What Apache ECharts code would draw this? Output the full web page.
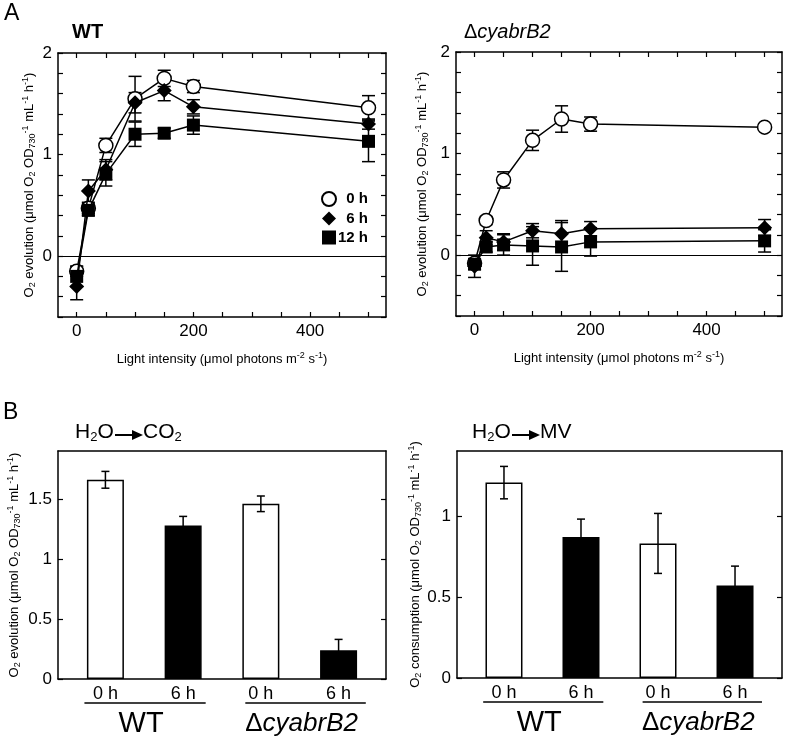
<!DOCTYPE html>
<html><head><meta charset="utf-8">
<script src="https://cdn.jsdelivr.net/npm/echarts@6/dist/echarts.min.js"></script>
<style>html,body{margin:0;padding:0;background:#fff}#c{width:785px;height:738px}</style>
</head><body><div id="c"></div>
<script>
// ---------- DATA ----------
const lightX = [0, 20, 50, 100, 150, 200, 500];
const timeNames = ['0 h', '6 h', '12 h'];
// WT
const wt0h    = [-0.15, 0.47, 1.09, 1.55, 1.75, 1.67, 1.46];
const wt0hErr = [0.05, 0.05, 0.07, 0.22, 0.08, 0.06, 0.12];
const wt6h    = [-0.30, 0.64, 0.85, 1.51, 1.63, 1.47, 1.30];
const wt6hErr = [0.13, 0.11, 0.10, 0.10, 0.10, 0.07, 0.05];
const wt12h    = [-0.20, 0.45, 0.81, 1.20, 1.21, 1.29, 1.13];
const wt12hErr = [0.10, 0.05, 0.12, 0.12, 0.05, 0.09, 0.20];
// delta cyabrB2
const dl0h    = [-0.08, 0.34, 0.74, 1.13, 1.34, 1.29, 1.26];
const dl0hErr = [0.03, 0.04, 0.08, 0.10, 0.13, 0.07, 0.03];
const dl6h    = [-0.11, 0.17, 0.13, 0.24, 0.21, 0.26, 0.27];
const dl6hErr = [0.11, 0.07, 0.08, 0.07, 0.13, 0.07, 0.08];
const dl12h    = [-0.09, 0.08, 0.10, 0.09, 0.08, 0.13, 0.14];
const dl12hErr = [0.05, 0.05, 0.10, 0.19, 0.24, 0.14, 0.11];
// tick labels
const lightTickLabels = [0, 200, 400];
const lightTicks = [0, 50, 100, 150, 200, 250, 300, 350, 400, 450, 500];
const rateTickLabels = [0, 1, 2];
const rateTicks = [-0.6, -0.4, -0.2, 0, 0.2, 0.4, 0.6, 0.8, 1, 1.2, 1.4, 1.6, 1.8, 2];
// Bars (panel B)
const barPos = [0, 1, 2, 3];
const barLabels = ['0 h', '6 h', '0 h', '6 h'];
const strainGroups = ['WT', 'ΔcyabrB2'];
const co2Vals = [1.66, 1.28, 1.46, 0.24];
const co2Err  = [0.07, 0.075, 0.065, 0.09];
const co2Ticks = [0, 0.5, 1, 1.5];
const mvVals = [1.205, 0.87, 0.83, 0.57];
const mvErr  = [0.10, 0.11, 0.185, 0.12];
const mvTicks = [0, 0.5, 1];

// ---------- STYLE ----------
const FONT = '"Liberation Sans", Arial, Helvetica, sans-serif';
const BLACK = '#000';
const richName = {
  n: {fontSize: 13, fontFamily: FONT, color: BLACK, lineHeight: 16},
  s: {fontSize: 9, fontFamily: FONT, color: BLACK, lineHeight: 12, verticalAlign: 'bottom'},
  p: {fontSize: 9, fontFamily: FONT, color: BLACK, verticalAlign: 'top'}
};
const yNameEvol = '{n|O}{s|2}{n| evolution (μmol O}{s|2}{n| OD}{s|730}{p|-1}{n| mL}{p|-1}{n| h}{p|-1}{n|)}';
const yNameCons = '{n|O}{s|2}{n| consumption (μmol O}{s|2}{n| OD}{s|730}{p|-1}{n| mL}{p|-1}{n| h}{p|-1}{n|)}';
const xNameLight = '{n|Light intensity (μmol photons m}{p|-2}{n| s}{p|-1}{n|)}';

const chart = echarts.init(document.getElementById('c'));

const grids = [
  {left: 58, top: 53, width: 328, height: 264},
  {left: 456, top: 52, width: 326, height: 264},
  {left: 58, top: 451, width: 328, height: 228},
  {left: 457, top: 451, width: 325, height: 227}
];

function boxAxis(extra) {
  return Object.assign({
    type: 'value',
    axisLine: {show: true, onZero: false, lineStyle: {color: BLACK, width: 1.5}},
    splitLine: {show: false},
    axisTick: {show: false},
    axisLabel: {show: false}
  }, extra);
}
function ticks(vals) {
  return {show: true, inside: true, length: 5, customValues: vals, lineStyle: {color: BLACK, width: 1.2}};
}
function labels(vals, extra) {
  return Object.assign({show: true, customValues: vals, fontSize: 16, fontFamily: FONT, color: BLACK, margin: 6}, extra || {});
}

const xAxes = [], yAxes = [];
// top panels
[0, 1].forEach(g => {
  xAxes.push(boxAxis({gridIndex: g, min: -32, max: 530, position: 'bottom',
    axisTick: ticks(lightTicks), axisLabel: labels(lightTickLabels, {fontSize: 17}),
    name: xNameLight, nameLocation: 'middle', nameGap: 34, nameTextStyle: {rich: richName}}));
  xAxes.push(boxAxis({gridIndex: g, min: -32, max: 530, position: 'top', axisTick: ticks(lightTicks)}));
  yAxes.push(boxAxis({gridIndex: g, min: -0.6, max: 2, position: 'left',
    axisTick: ticks(rateTicks), axisLabel: labels(rateTickLabels, {fontSize: 17}),
    name: yNameEvol, nameLocation: 'middle', nameGap: g === 0 ? 21 : 26, nameTextStyle: {rich: richName}}));
  yAxes.push(boxAxis({gridIndex: g, min: -0.6, max: 2, position: 'right', axisTick: ticks(rateTicks)}));
});
// bottom panels
[[2, 1.9, co2Ticks, yNameEvol, 36], [3, 1.4, mvTicks, yNameCons, 28]].forEach(([g, mx, tv, nm, gap]) => {
  xAxes.push(boxAxis({gridIndex: g, min: -0.61, max: 3.61, position: 'bottom',
    axisLabel: labels(barPos, {fontSize: 18, margin: 6, formatter: v => barLabels[Math.round(v)]})}));
  xAxes.push(boxAxis({gridIndex: g, min: -0.61, max: 3.61, position: 'top'}));
  yAxes.push(boxAxis({gridIndex: g, min: 0, max: mx, position: 'left',
    axisTick: ticks(tv), axisLabel: labels(tv, {fontSize: 17}),
    name: nm, nameLocation: 'middle', nameGap: gap, nameTextStyle: {rich: richName}}));
  yAxes.push(boxAxis({gridIndex: g, min: 0, max: mx, position: 'right', axisTick: ticks(tv)}));
});

function errRender(cap) {
  return function (params, api) {
    const x = api.value(0), y = api.value(1), e = api.value(2);
    const a = api.coord([x, y + e]), b = api.coord([x, y - e]);
    const st = {stroke: BLACK, lineWidth: 1.5};
    return {type: 'group', children: [
      {type: 'line', shape: {x1: a[0], y1: a[1], x2: b[0], y2: b[1]}, style: st},
      {type: 'line', shape: {x1: a[0] - cap, y1: a[1], x2: a[0] + cap, y2: a[1]}, style: st},
      {type: 'line', shape: {x1: b[0] - cap, y1: b[1], x2: b[0] + cap, y2: b[1]}, style: st}
    ]};
  };
}

const markerStyles = [
  {symbol: 'circle', symbolSize: 14, itemStyle: {color: '#fff', borderColor: BLACK, borderWidth: 1.5}},
  {symbol: 'diamond', symbolSize: 15, itemStyle: {color: BLACK, borderColor: BLACK, borderWidth: 0}},
  {symbol: 'rect', symbolSize: 13, itemStyle: {color: BLACK, borderColor: BLACK, borderWidth: 0}}
];

const series = [];
[[wt0h, wt6h, wt12h, wt0hErr, wt6hErr, wt12hErr], [dl0h, dl6h, dl12h, dl0hErr, dl6hErr, dl12hErr]].forEach((set, g) => {
  for (let k = 0; k < 3; k++) {
    series.push({
      type: 'custom', xAxisIndex: 2 * g, yAxisIndex: 2 * g, z: 1, silent: true,
      renderItem: errRender(6.5),
      data: lightX.map((x, i) => [x, set[k][i], set[k + 3][i]])
    });
  }
  for (let k = 0; k < 3; k++) {
    const s = Object.assign({
      type: 'line', name: timeNames[k], xAxisIndex: 2 * g, yAxisIndex: 2 * g, z: 3 + k,
      lineStyle: {color: BLACK, width: 1.5}, emphasis: {disabled: true},
      data: lightX.map((x, i) => [x, set[k][i]])
    }, markerStyles[k]);
    if (k === 0) {
      s.markLine = {silent: true, symbol: 'none', label: {show: false},
        lineStyle: {color: BLACK, width: 1, type: 'solid'}, data: [{yAxis: 0}]};
    }
    series.push(s);
  }
});
[[co2Vals, co2Err], [mvVals, mvErr]].forEach(([vals, errs], j) => {
  const ax = 4 + 2 * j;
  series.push({
    type: 'bar', xAxisIndex: ax, yAxisIndex: ax, barWidth: 37, z: 2, silent: true,
    itemStyle: {borderColor: BLACK, borderWidth: 1.5},
    data: barPos.map((x, i) => ({value: [x, vals[i]], itemStyle: {color: barLabels[i] === '0 h' ? '#fff' : BLACK}}))
  });
  series.push({
    type: 'custom', xAxisIndex: ax, yAxisIndex: ax, z: 3, silent: true,
    renderItem: errRender(4),
    data: barPos.map((x, i) => [x, vals[i], errs[i]])
  });
});

chart.setOption({
  animation: false,
  backgroundColor: '#fff',
  grid: grids,
  xAxis: xAxes,
  yAxis: yAxes,
  legend: {
    show: true, orient: 'vertical', left: 321, top: 191, itemWidth: 14, itemHeight: 14, itemGap: 4, padding: 0,
    selectedMode: false,
    data: [{name: '0 h', icon: 'circle'}, {name: '6 h', icon: 'diamond'}, {name: '12 h', icon: 'rect'}],
    formatter: n => '{a|' + n + '}',
    textStyle: {rich: {a: {width: 27, align: 'right', fontSize: 15, fontWeight: 'bold', fontFamily: FONT, color: BLACK}}}
  },
  series: series
});

// annotations (panel letters, titles, group underlines)
const gfx = [];
function txt(text, left, top, style) {
  gfx.push({type: 'text', left: left, top: top, style: Object.assign({text: text, fill: BLACK, fontFamily: FONT}, style)});
}
txt('A', 4, 2, {fontSize: 23});
txt('WT', 72, 22, {fontSize: 20, fontWeight: 'bold'});
txt('{u|Δ}{i|cyabrB2}', 464, 22, {rich: {u: {fontSize: 20, fontFamily: FONT, fill: BLACK}, i: {fontSize: 20, fontStyle: 'italic', fontFamily: FONT, fill: BLACK}}});
txt('B', 3, 401, {fontSize: 23});
const richReact = {m: {fontSize: 21, fontFamily: FONT, fill: BLACK, lineHeight: 22}, s: {fontSize: 13, fontFamily: FONT, fill: BLACK, lineHeight: 16, verticalAlign: 'bottom'}};
function reaction(x0, product) {
  txt('{m|H}{s|2}{m|O}', x0, 422, {rich: richReact});
  const ax = x0 + 40, ay = 435;
  gfx.push({type: 'line', shape: {x1: ax, y1: ay, x2: ax + 20, y2: ay}, style: {stroke: BLACK, lineWidth: 2}});
  gfx.push({type: 'polygon', shape: {points: [[ax + 17, ay - 5], [ax + 28, ay], [ax + 17, ay + 5]]}, style: {fill: BLACK}});
  txt(product, ax + 28, 422, {rich: richReact});
}
reaction(75, '{m|CO}{s|2}');
reaction(472, '{m|MV}');

[4, 6].forEach(ax => {
  [[-0.27, 1.29, 0], [1.8, 3.35, 1]].forEach(([a, b, gi]) => {
    const p1 = chart.convertToPixel({xAxisIndex: ax, yAxisIndex: ax}, [a, 0]);
    const p2 = chart.convertToPixel({xAxisIndex: ax, yAxisIndex: ax}, [b, 0]);
    const yL = p1[1] + 24;
    gfx.push({type: 'line', shape: {x1: p1[0], y1: yL, x2: p2[0], y2: yL}, style: {stroke: BLACK, lineWidth: 1.5}});
    const cx = (p1[0] + p2[0]) / 2 - 4;
    const label = strainGroups[gi];
    const t = label === 'WT' ? '{w|WT}' : '{r|Δ}{i|' + label.slice(1) + '}';
    gfx.push({type: 'text', x: cx, y: yL + 21, style: {text: t, align: 'center', verticalAlign: 'middle',
      rich: {w: {fontSize: 29, fontFamily: FONT, fill: BLACK}, r: {fontSize: 26, fontFamily: FONT, fill: BLACK}, i: {fontSize: 26, fontStyle: 'italic', fontFamily: FONT, fill: BLACK}}}});
  });
});
chart.setOption({graphic: gfx});
</script>
</body></html>
